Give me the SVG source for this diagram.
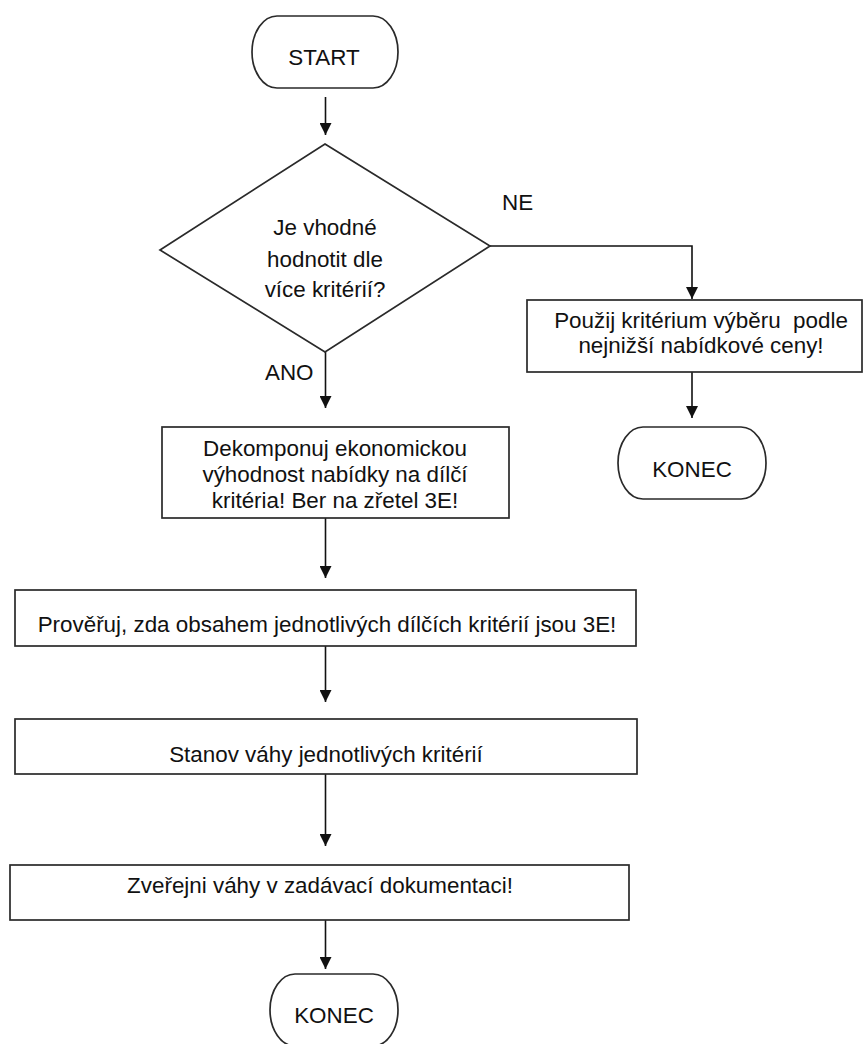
<svg xmlns="http://www.w3.org/2000/svg" width="865" height="1044" viewBox="0 0 865 1044">
  <defs>
    <marker id="arrow" viewBox="0 0 12 12" refX="12" refY="6" markerWidth="12" markerHeight="12" markerUnits="userSpaceOnUse" orient="auto">
      <path d="M0,0 L12,6 L0,12 Z" fill="#111"/>
    </marker>
    <style>
      .shape { fill: #fff; stroke: #2a2a2a; stroke-width: 1.7; }
      .edge { fill: none; stroke: #111; stroke-width: 1.6; marker-end: url(#arrow); }
      text { font-family: "Liberation Sans", Arial, sans-serif; font-size: 22.4px; fill: #111; }
      .c { text-anchor: middle; }
    </style>
  </defs>
  <rect width="865" height="1044" fill="#fff"/>

  <!-- connectors -->
  <g id="connectors">
    <line class="edge" x1="325.5" y1="97" x2="325.5" y2="135"/>
    <line class="edge" x1="325.5" y1="352" x2="325.5" y2="408"/>
    <polyline class="edge" points="490,246 692,246 692,299"/>
    <line class="edge" x1="692" y1="372" x2="692" y2="418"/>
    <line class="edge" x1="325.5" y1="518" x2="325.5" y2="578"/>
    <line class="edge" x1="325.5" y1="646" x2="325.5" y2="702"/>
    <line class="edge" x1="325.5" y1="774" x2="325.5" y2="846"/>
    <line class="edge" x1="325.5" y1="920" x2="325.5" y2="969"/>
    <text x="265" y="380">ANO</text>
    <text x="502" y="210">NE</text>
  </g>

  <g id="start">
    <rect class="shape" x="252" y="16" width="146" height="72" rx="25" ry="36"/>
    <text class="c" x="324" y="65">START</text>
  </g>

  <g id="decision">
    <polygon class="shape" points="325,144 490,246 325,352 160,250"/>
    <text class="c" x="325" y="235">Je vhodné</text>
    <text class="c" x="325" y="267">hodnotit dle</text>
    <text class="c" x="325" y="297">více kritérií?</text>
  </g>

  <g id="lowest-price">
    <rect class="shape" x="527" y="300" width="335" height="72"/>
    <text class="c" x="701" y="328" xml:space="preserve">Použij kritérium výběru  podle</text>
    <text class="c" x="701" y="353">nejnižší nabídkové ceny!</text>
  </g>

  <g id="end-right">
    <rect class="shape" x="618" y="427" width="148" height="72" rx="25" ry="36"/>
    <text class="c" x="692" y="477">KONEC</text>
  </g>

  <g id="decompose">
    <rect class="shape" x="162" y="427" width="347" height="91"/>
    <text class="c" x="335" y="456">Dekomponuj ekonomickou</text>
    <text class="c" x="335" y="482">výhodnost nabídky na dílčí</text>
    <text class="c" x="335" y="508">kritéria! Ber na zřetel 3E!</text>
  </g>

  <g id="verify">
    <rect class="shape" x="15" y="590" width="621" height="56"/>
    <text class="c" x="327" y="632">Prověřuj, zda obsahem jednotlivých dílčích kritérií jsou 3E!</text>
  </g>

  <g id="weights">
    <rect class="shape" x="15" y="719" width="622" height="55"/>
    <text class="c" x="326" y="762">Stanov váhy jednotlivých kritérií</text>
  </g>

  <g id="publish">
    <rect class="shape" x="10" y="865" width="619" height="55"/>
    <text class="c" x="320" y="893">Zveřejni váhy v zadávací dokumentaci!</text>
  </g>

  <g id="end-bottom">
    <rect class="shape" x="270" y="974" width="128" height="72" rx="25" ry="36"/>
    <text class="c" x="334" y="1023">KONEC</text>
  </g>
</svg>
